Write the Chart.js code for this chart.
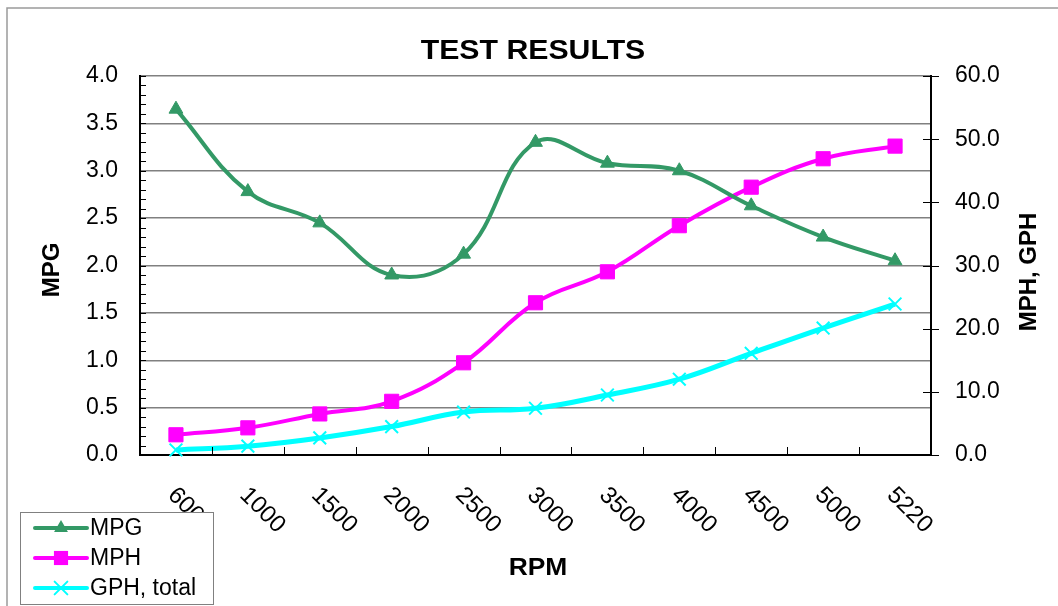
<!DOCTYPE html>
<html lang="en">
<head>
    <meta charset="UTF-8">
    <title>Test Results</title>
    <script src="https://cdn.jsdelivr.net/npm/chart.js"></script>
    <style>
        html, body { margin: 0; padding: 0; background: #fff; }
        #wrap { width: 1058px; height: 606px; }
    </style>
</head>
<body>
    <div id="wrap">
        <canvas id="chart" width="1058" height="606"></canvas>
    </div>

    <script>
        // data
        const rpmLabels = ['600', '1000', '1500', '2000', '2500', '3000', '3500', '4000', '4500', '5000', '5220'];
        const mpgValues = [3.65, 2.78, 2.45, 1.90, 2.12, 3.30, 3.08, 3.00, 2.63, 2.30, 2.05];
        const mphValues = [3.2, 4.3, 6.5, 8.5, 14.6, 24.1, 29.0, 36.3, 42.4, 46.9, 48.9];
        const gphValues = [0.8, 1.4, 2.7, 4.5, 6.8, 7.4, 9.5, 12.0, 16.1, 20.1, 23.9];

        const chartTitle = 'TEST RESULTS';
        const xTitle = 'RPM';
        const leftTitle = 'MPG';
        const rightTitle = 'MPH, GPH';

        const GREEN = '#339966';
        const MAGENTA = '#FF00FF';
        const CYAN = '#00FFFF';
        const FONT = '"Liberation Sans", Arial, sans-serif';

        const seriesInfo = [
            { label: 'MPG', color: GREEN, style: 'triangle', radius: 8 },
            { label: 'MPH', color: MAGENTA, style: 'rect', radius: 10 },
            { label: 'GPH, total', color: CYAN, style: 'crossRot', radius: 9 }
        ];

        function marker(ctx, style, x, y, r, color) {
            ctx.save();
            ctx.fillStyle = color;
            ctx.strokeStyle = color;
            ctx.lineWidth = 2;
            ctx.beginPath();
            if (style === 'triangle') {
                ctx.moveTo(x, y - r);
                ctx.lineTo(x + r * 0.866, y + r * 0.5);
                ctx.lineTo(x - r * 0.866, y + r * 0.5);
                ctx.closePath();
                ctx.fill();
            } else if (style === 'rect') {
                const s = r * Math.SQRT1_2;
                ctx.rect(x - s, y - s, 2 * s, 2 * s);
                ctx.fill();
            } else {
                const s = r * Math.SQRT1_2;
                ctx.moveTo(x - s, y - s);
                ctx.lineTo(x + s, y + s);
                ctx.moveTo(x - s, y + s);
                ctx.lineTo(x + s, y - s);
                ctx.stroke();
            }
            ctx.restore();
        }

        // frame, title, axis titles, little ticks, slanted RPM labels, legend
        const decorations = {
            id: 'decorations',
            beforeDraw(chart) {
                const ctx = chart.ctx;
                ctx.save();
                ctx.fillStyle = '#fff';
                ctx.fillRect(0, 0, chart.width, chart.height);
                ctx.strokeStyle = '#9a9a9a';
                ctx.lineWidth = 1.5;
                ctx.beginPath();
                ctx.moveTo(7, chart.height);
                ctx.lineTo(7, 8);
                ctx.lineTo(chart.width, 8);
                ctx.stroke();
                ctx.restore();
            },
            afterDraw(chart) {
                const ctx = chart.ctx;
                const area = chart.chartArea;
                const x = chart.scales.x;
                const y = chart.scales.y;
                const y2 = chart.scales.y2;

                ctx.save();
                ctx.strokeStyle = '#000';
                ctx.lineWidth = 1;

                // minor ticks inside the left axis
                ctx.beginPath();
                for (let v = 0; v <= 40; v++) {
                    const py = Math.round(y.getPixelForValue(v / 10)) + 0.5;
                    ctx.moveTo(area.left, py);
                    ctx.lineTo(area.left + 6, py);
                }
                // category boundary ticks on the x axis
                for (let i = 0; i < rpmLabels.length - 1; i++) {
                    const px = Math.round((x.getPixelForValue(i) + x.getPixelForValue(i + 1)) / 2) + 0.5;
                    ctx.moveTo(px, area.bottom);
                    ctx.lineTo(px, area.bottom - 8);
                }
                // right axis ticks crossing the axis
                for (let v = 0; v <= 60; v += 10) {
                    const py = Math.round(y2.getPixelForValue(v)) + 0.5;
                    ctx.moveTo(area.right - 8, py);
                    ctx.lineTo(area.right + 8, py);
                }
                ctx.stroke();

                // texts
                ctx.fillStyle = '#000';
                ctx.font = 'bold 27px ' + FONT;
                ctx.textAlign = 'center';
                ctx.textBaseline = 'alphabetic';
                ctx.save();
                ctx.translate(533, 59);
                ctx.scale(1.12, 1);
                ctx.fillText(chartTitle, 0, 0);
                ctx.restore();

                ctx.font = 'bold 24px ' + FONT;
                ctx.save();
                ctx.translate(538, 575);
                ctx.scale(1.1, 1);
                ctx.fillText(xTitle, 0, 0);
                ctx.restore();

                ctx.save();
                ctx.translate(52, 270);
                ctx.rotate(-Math.PI / 2);
                ctx.textBaseline = 'middle';
                ctx.fillText(leftTitle, 0, 0);
                ctx.restore();

                ctx.save();
                ctx.translate(1029, 272);
                ctx.rotate(-Math.PI / 2);
                ctx.textBaseline = 'middle';
                ctx.fillText(rightTitle, 0, 0);
                ctx.restore();

                // slanted category labels
                ctx.font = '24px ' + FONT;
                ctx.textAlign = 'left';
                ctx.textBaseline = 'top';
                rpmLabels.forEach((lab, i) => {
                    ctx.save();
                    ctx.translate(x.getPixelForValue(i) + 4, area.bottom + 28);
                    ctx.rotate(Math.PI / 4);
                    ctx.fillText(lab, 0, 0);
                    ctx.restore();
                });

                // legend box (sits over the first label like the original)
                ctx.fillStyle = '#fff';
                ctx.fillRect(20, 512, 193, 92);
                ctx.strokeStyle = '#808080';
                ctx.lineWidth = 1;
                ctx.strokeRect(20.5, 512.5, 193, 92);
                ctx.font = '23px ' + FONT;
                ctx.textBaseline = 'middle';
                seriesInfo.forEach((s, i) => {
                    const ly = 528 + i * 30;
                    ctx.strokeStyle = s.color;
                    ctx.lineWidth = 4;
                    ctx.lineCap = 'round';
                    ctx.beginPath();
                    ctx.moveTo(35, ly);
                    ctx.lineTo(87, ly);
                    ctx.stroke();
                    marker(ctx, s.style, 61, ly, s.radius, s.color);
                    ctx.fillStyle = '#000';
                    ctx.fillText(s.label, 90, ly + 1);
                });
                ctx.restore();
            }
        };

        const ctx = document.getElementById('chart').getContext('2d');
        const chart = new Chart(ctx, {
            type: 'line',
            data: {
                labels: rpmLabels,
                datasets: [
                    {
                        label: seriesInfo[0].label,
                        data: mpgValues,
                        yAxisID: 'y',
                        borderColor: GREEN,
                        backgroundColor: GREEN,
                        borderWidth: 4,
                        tension: 0.4,
                        pointStyle: 'triangle',
                        pointRadius: 8,
                        pointBorderWidth: 1
                    },
                    {
                        label: seriesInfo[1].label,
                        data: mphValues,
                        yAxisID: 'y2',
                        borderColor: MAGENTA,
                        backgroundColor: MAGENTA,
                        borderWidth: 4,
                        tension: 0.4,
                        pointStyle: 'rect',
                        pointRadius: 10,
                        pointBorderWidth: 1
                    },
                    {
                        label: seriesInfo[2].label,
                        data: gphValues,
                        yAxisID: 'y2',
                        borderColor: CYAN,
                        backgroundColor: CYAN,
                        borderWidth: 5,
                        tension: 0.4,
                        pointStyle: 'crossRot',
                        pointRadius: 9,
                        pointBorderWidth: 2
                    }
                ]
            },
            options: {
                responsive: false,
                animation: false,
                devicePixelRatio: 1,
                clip: false,
                layout: { padding: { top: 76, left: 0, right: 0, bottom: 0 } },
                plugins: {
                    legend: { display: false },
                    title: { display: false },
                    tooltip: { enabled: false }
                },
                scales: {
                    x: {
                        offset: true,
                        grid: { display: true, drawOnChartArea: false, drawTicks: false },
                        border: { display: true, color: '#000', width: 2 },
                        ticks: { display: false },
                        afterFit: (s) => { s.height = 151; }
                    },
                    y: {
                        position: 'left',
                        min: 0,
                        max: 4,
                        ticks: {
                            stepSize: 0.5,
                            color: '#000',
                            padding: 22,
                            font: { family: FONT, size: 23 },
                            callback: (v) => v.toFixed(1)
                        },
                        grid: { color: '#808080', lineWidth: 1.5, drawTicks: false },
                        border: { display: true, color: '#000', width: 2 },
                        afterFit: (s) => { s.width = 140; }
                    },
                    y2: {
                        position: 'right',
                        min: 0,
                        max: 60,
                        ticks: {
                            stepSize: 10,
                            color: '#000',
                            padding: 24,
                            font: { family: FONT, size: 23 },
                            callback: (v) => v.toFixed(1)
                        },
                        grid: { drawOnChartArea: false, drawTicks: false },
                        border: { display: true, color: '#000', width: 2 },
                        afterFit: (s) => { s.width = 127; }
                    }
                }
            },
            plugins: [decorations]
        });
    </script>
</body>
</html>
